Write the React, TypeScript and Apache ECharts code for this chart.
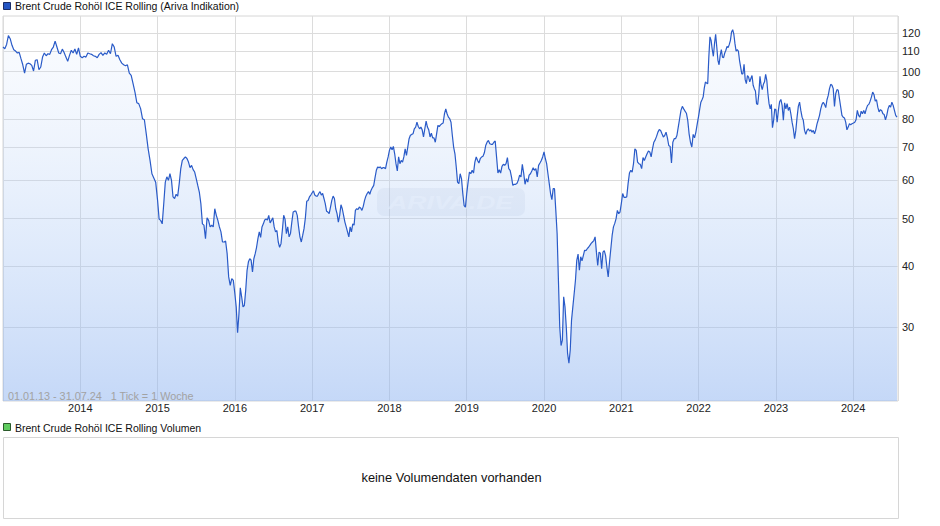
import React, { useEffect, useRef } from "react";
import * as echarts from "echarts";

const TITLE = "Brent Crude Rohöl ICE Rolling (Ariva Indikation)";
const VOLUME_TITLE = "Brent Crude Rohöl ICE Rolling Volumen";
const RANGE_NOTE = "01.01.13 - 31.07.24   1 Tick = 1 Woche";
const NO_VOLUME = "keine Volumendaten vorhanden";
const WATERMARK = "ARIVA.DE";

const years = [2013, 2014, 2015, 2016, 2017, 2018, 2019, 2020, 2021, 2022, 2023, 2024];

const p2013 = [112.3, 111.4, 113.7, 118.5, 116.8, 113.2, 110.9, 110.2, 109.2, 109.5, 106.3, 103.3, 99.3, 103.5, 104.1, 103.8, 103.0, 100.3, 105.5, 105.8, 100.9, 102.2, 107.1, 109.2, 107.8, 108.8, 108.5, 110.9, 112.3, 115.5, 112.3, 109.2, 108.8, 111.2, 109.4, 107.1, 105.0, 108.0, 110.6, 109.2, 111.3, 108.5, 111.8];
const p2014 = [107.5, 106.8, 107.5, 107.1, 109.2, 108.8, 108.5, 107.8, 107.5, 106.8, 108.5, 109.4, 108.0, 109.2, 108.5, 110.6, 108.8, 114.1, 112.3, 107.5, 108.0, 105.8, 104.1, 103.3, 102.8, 103.3, 99.3, 98.3, 94.5, 90.8, 86.4, 86.0, 84.0, 80.1, 79.7, 74.6, 69.5, 65.8, 61.8, 60.6, 59.4];
const p2015 = [54.5, 49.9, 49.6, 48.8, 53.7, 59.4, 60.9, 59.9, 61.8, 59.9, 55.4, 55.0, 56.1, 55.6, 59.0, 63.3, 65.8, 66.4, 66.9, 66.4, 65.3, 63.6, 64.3, 63.0, 62.3, 60.4, 58.5, 56.7, 53.7, 48.8, 48.5, 45.5, 50.2, 49.6, 48.1, 48.5, 48.1, 52.4, 50.8, 49.6, 48.1, 47.0, 44.8, 44.8, 45.0, 42.4, 38.0, 36.5, 37.7, 37.4];
const p2016 = [35.1, 33.0, 29.2, 31.9, 36.1, 34.6, 33.0, 33.2, 35.7, 39.2, 40.8, 41.4, 41.1, 38.9, 41.4, 42.4, 43.7, 45.5, 47.0, 45.8, 48.1, 48.8, 49.7, 49.9, 49.7, 50.8, 49.0, 49.6, 50.2, 48.1, 47.0, 47.3, 44.8, 43.7, 44.4, 47.3, 50.8, 49.9, 46.6, 48.1, 45.9, 46.6, 49.2, 51.6, 51.8, 51.8, 50.8, 48.1, 45.9, 44.8, 46.2, 47.7, 50.2, 54.3, 54.5, 55.4, 55.9];
const p2017 = [56.5, 57.0, 55.9, 55.6, 55.6, 56.3, 56.8, 55.9, 56.3, 55.0, 53.7, 51.8, 51.6, 51.2, 52.8, 54.5, 55.6, 55.0, 52.4, 51.2, 49.2, 50.8, 53.4, 52.4, 50.8, 49.2, 48.1, 47.0, 45.9, 48.1, 47.0, 48.8, 48.5, 52.0, 52.4, 52.2, 52.8, 52.6, 52.0, 53.0, 54.5, 55.6, 56.3, 56.8, 56.1, 57.2, 57.9, 58.5, 60.7, 62.8, 63.8, 63.6, 63.8, 63.3, 63.6, 63.6, 63.3, 65.3, 66.9];
const p2018 = [69.0, 70.1, 69.2, 70.3, 67.9, 64.8, 62.6, 66.9, 64.8, 65.8, 65.3, 66.9, 69.5, 67.4, 70.1, 72.9, 74.1, 74.4, 74.6, 76.4, 77.0, 78.8, 77.2, 76.4, 77.0, 76.0, 73.5, 76.4, 79.2, 77.0, 76.0, 73.5, 74.8, 73.2, 73.2, 71.7, 74.6, 77.6, 77.2, 77.8, 78.2, 78.5, 82.0, 83.9, 82.0, 80.7, 80.1, 78.8, 74.1, 70.1, 67.9, 63.8, 59.4, 59.0, 61.8, 60.4, 56.3, 53.2, 52.8];
const p2019 = [56.3, 59.4, 62.3, 61.8, 62.8, 62.0, 65.3, 66.9, 65.8, 65.0, 66.4, 66.9, 67.1, 68.2, 70.6, 71.7, 72.3, 71.2, 71.0, 71.0, 71.7, 72.1, 66.9, 62.0, 63.0, 62.0, 64.0, 64.6, 64.3, 64.8, 66.7, 63.3, 62.8, 60.9, 58.5, 58.8, 58.8, 59.0, 59.9, 61.4, 60.9, 64.6, 62.0, 58.8, 60.4, 59.4, 61.4, 61.8, 62.6, 63.6, 62.8, 63.3, 60.9, 64.3, 65.0, 65.8, 66.9];
const p2020 = [68.5, 66.4, 64.8, 61.8, 59.0, 56.3, 54.7, 57.6, 57.6, 52.0, 46.6, 37.4, 30.0, 27.5, 28.2, 34.6, 33.0, 30.0, 26.5, 25.3, 26.9, 31.0, 33.0, 35.1, 37.4, 41.1, 42.3, 39.2, 41.8, 41.0, 42.0, 43.1, 43.0, 43.4, 43.7, 44.1, 44.5, 44.8, 45.1, 45.9, 42.7, 40.1, 42.7, 42.5, 39.5, 42.7, 43.0, 42.0, 39.8, 38.0, 40.8, 43.4, 46.2, 48.1, 48.9, 50.0, 52.0, 51.2, 51.6];
const p2021 = [53.7, 56.3, 55.3, 55.3, 55.4, 59.0, 62.0, 62.8, 62.3, 64.8, 69.5, 69.0, 65.3, 64.8, 64.6, 63.3, 66.7, 65.8, 66.9, 67.9, 68.8, 68.5, 66.9, 69.5, 71.7, 72.5, 73.7, 75.2, 76.1, 75.8, 74.6, 73.5, 74.0, 75.2, 73.2, 70.6, 70.3, 65.0, 71.7, 72.9, 72.9, 74.0, 77.0, 80.1, 83.3, 84.9, 83.9, 83.0, 82.2, 79.5, 74.6, 71.7, 70.1, 74.4, 73.2, 75.2, 78.2];
const p2022 = [81.1, 83.9, 86.6, 87.6, 88.7, 92.5, 95.2, 94.8, 94.5, 107.1, 117.8, 115.9, 111.0, 107.5, 114.1, 119.3, 112.3, 105.5, 103.3, 108.0, 111.0, 107.1, 106.8, 109.2, 110.6, 112.7, 112.0, 113.7, 115.9, 120.6, 121.9, 119.3, 114.1, 110.2, 110.9, 110.2, 105.5, 102.2, 99.0, 99.0, 103.5, 96.3, 94.5, 98.2, 97.5, 95.3, 96.8, 98.2, 93.8, 92.3, 91.3, 86.0, 85.7, 90.1, 97.8, 93.8, 91.9, 94.2, 95.3, 98.7, 96.0, 90.1, 86.0, 83.9, 85.7, 76.8, 79.5, 83.9];
const p2023 = [83.6, 78.8, 83.3, 86.8, 87.7, 85.3, 79.5, 86.3, 83.9, 86.0, 83.3, 84.6, 82.0, 78.8, 76.4, 72.9, 75.8, 80.7, 84.9, 86.6, 83.3, 80.7, 79.5, 75.8, 74.4, 75.8, 76.4, 75.6, 76.0, 75.2, 75.8, 74.6, 76.0, 78.2, 79.7, 81.4, 83.9, 85.7, 86.6, 85.7, 84.4, 87.6, 89.4, 92.3, 94.2, 93.8, 92.3, 84.9, 90.1, 91.9, 91.6, 88.0, 84.6, 81.4, 80.7, 80.4, 78.8, 76.0, 77.0, 78.2, 77.9, 78.2];
const p2024 = [78.5, 78.8, 79.7, 83.3, 81.4, 80.7, 83.0, 82.0, 83.3, 82.0, 83.9, 85.3, 85.7, 87.0, 88.7, 90.8, 89.8, 87.0, 87.6, 84.6, 82.7, 83.6, 83.3, 82.0, 81.7, 79.7, 81.4, 83.9, 85.3, 84.6, 86.6, 85.3, 83.3, 81.4, 80.7];

const yearlyPrices = [p2013, p2014, p2015, p2016, p2017, p2018, p2019, p2020, p2021, p2022, p2023, p2024];

// dates as decimal years
const axisStart = 2013.0; // 01.01.13
const axisEnd = 2024.58; // 31.07.24
const lastQuote = 2024.567; // last weekly quote, late July 2024

const priceTicks = [30, 40, 50, 60, 70, 80, 90, 100, 110, 120];
const priceMin = 21.17;
const priceMax = 130;

const FONT = "'Liberation Sans', Arial, sans-serif";

function buildData(): [number, number][] {
  const out: [number, number][] = [];
  yearlyPrices.forEach((arr, k) => {
    const y = years[k];
    const n = arr.length;
    arr.forEach((v, i) => {
      const t = k === yearlyPrices.length - 1 ? y + 0.004 + (i / (n - 1)) * (lastQuote - y - 0.004) : y + i / n;
      out.push([t, Math.log10(v)]);
    });
  });
  return out;
}

export default function App() {
  const ref = useRef<HTMLDivElement>(null);
  useEffect(() => {
    if (!ref.current) return;
    const chart = echarts.init(ref.current, undefined, { renderer: "svg" });
    const tickLogs = priceTicks.map((v) => Math.log10(v));
    const gridColor = "#dcdcdc";
    chart.setOption({
      animation: false,
      backgroundColor: "#ffffff",
      grid: {
        left: 3,
        right: 42,
        top: 16,
        bottom: 125,
        show: true,
        borderColor: "#d6d6d6",
        borderWidth: 1,
        backgroundColor: "transparent",
      },
      xAxis: {
        type: "value",
        min: axisStart,
        max: axisEnd,
        interval: 1,
        axisLine: { show: false },
        axisTick: { show: false },
        splitLine: { show: true, lineStyle: { color: gridColor, width: 1 } },
        axisLabel: {
          margin: 1,
          fontSize: 11,
          fontFamily: FONT,
          color: "#222",
          showMinLabel: false,
          showMaxLabel: false,
          formatter: (v: number) => (Math.abs(v - Math.round(v)) < 1e-6 && v > 2013 ? String(Math.round(v)) : ""),
        },
      },
      yAxis: {
        type: "value",
        position: "right",
        min: Math.log10(priceMin),
        max: Math.log10(priceMax),
        axisLine: { show: false },
        axisTick: { show: false, customValues: tickLogs },
        splitLine: { show: true, lineStyle: { color: gridColor, width: 1 } },
        axisLabel: {
          customValues: tickLogs,
          margin: 4,
          fontSize: 11,
          fontFamily: FONT,
          color: "#222",
          formatter: (v: number) => String(Math.round(Math.pow(10, v))),
        },
      },
      series: [
        {
          name: TITLE,
          type: "line",
          data: buildData(),
          showSymbol: false,
          symbol: "none",
          z: 3,
          lineStyle: { color: "#2a5bc8", width: 1.2 },
          areaStyle: {
            origin: "start",
            color: {
              type: "linear",
              x: 0,
              y: 0,
              x2: 0,
              y2: 1,
              colorStops: [
                { offset: 0, color: "rgba(215,228,250,0.2)" },
                { offset: 0.5, color: "rgba(170,200,245,0.45)" },
                { offset: 1, color: "rgba(140,178,240,0.72)" },
              ],
            },
          },
        },
      ],
      graphic: [
        {
          type: "rect",
          z: 1,
          shape: { x: 377, y: 188, width: 148, height: 28, r: 7 },
          style: { fill: "rgba(150,165,195,0.13)" },
        },
        {
          type: "text",
          z: 1,
          x: 388,
          y: 202,
          scaleX: 1.4,
          style: {
            text: WATERMARK,
            fontSize: 19,
            fontWeight: "bold",
            fontStyle: "italic",
            fontFamily: FONT,
            fill: "rgba(255,255,255,0.55)",
            verticalAlign: "middle",
          },
        },
        {
          type: "rect",
          z: 10,
          shape: { x: 3.5, y: 2.5, width: 7, height: 7 },
          style: { fill: "#2456c4", stroke: "#1b2c66", lineWidth: 1 },
        },
        {
          type: "text",
          z: 10,
          x: 15,
          y: 6,
          style: { text: TITLE, fontSize: 10.5, fontFamily: FONT, fill: "#111", verticalAlign: "middle" },
        },
        {
          type: "text",
          z: 10,
          x: 8,
          y: 395.5,
          style: { text: RANGE_NOTE, fontSize: 10.8, fontFamily: FONT, fill: "#a2a2a2", verticalAlign: "middle" },
        },
        {
          type: "rect",
          z: 10,
          shape: { x: 3.5, y: 423.5, width: 7, height: 7 },
          style: { fill: "#5fcc5f", stroke: "#2b5a2b", lineWidth: 1 },
        },
        {
          type: "text",
          z: 10,
          x: 15,
          y: 427.5,
          style: { text: VOLUME_TITLE, fontSize: 10.5, fontFamily: FONT, fill: "#111", verticalAlign: "middle" },
        },
        {
          type: "rect",
          z: 10,
          shape: { x: 3.5, y: 437.5, width: 895, height: 81 },
          style: { fill: "#ffffff", stroke: "#d6d6d6", lineWidth: 1 },
        },
        {
          type: "text",
          z: 11,
          x: 451.5,
          y: 477.5,
          style: {
            text: NO_VOLUME,
            fontSize: 12.8,
            fontFamily: FONT,
            fill: "#111",
            align: "center",
            verticalAlign: "middle",
          },
        },
      ],
    });
    return () => chart.dispose();
  }, []);
  return <div ref={ref} style={{ position: "fixed", left: 0, top: 0, width: 940, height: 526 }} />;
}
